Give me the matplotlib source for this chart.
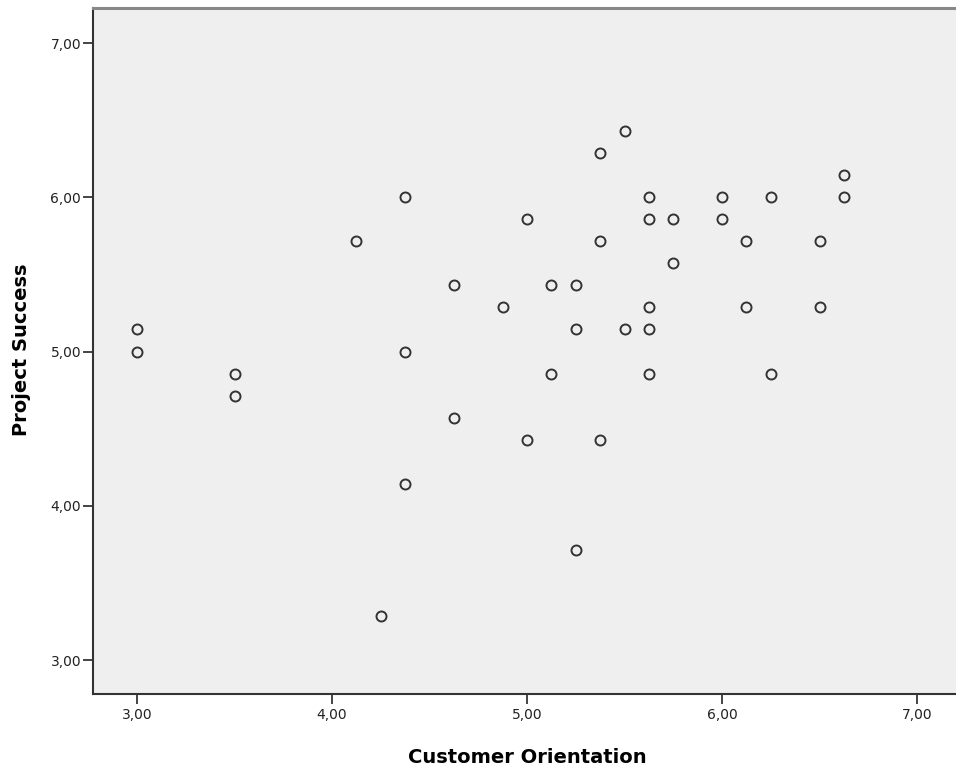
import matplotlib
matplotlib.use("Agg")
import matplotlib.pyplot as plt
from matplotlib.ticker import FuncFormatter

# Customer Orientation (x) vs Project Success (y)
customer_orientation = [
    3.000, 3.000, 3.500, 3.500, 4.125, 4.375, 4.375, 4.375, 4.250,
    4.625, 4.625, 4.875, 5.000, 5.000, 5.125, 5.125, 5.250, 5.250, 5.250,
    5.375, 5.375, 5.375, 5.500, 5.500, 5.625, 5.625, 5.625, 5.625, 5.625,
    5.750, 5.750, 6.000, 6.000, 6.125, 6.125, 6.250, 6.250, 6.500, 6.500,
    6.625, 6.625,
]
project_success = [
    5.143, 5.000, 4.857, 4.714, 5.714, 6.000, 5.000, 4.143, 3.286,
    5.429, 4.571, 5.286, 5.857, 4.429, 5.429, 4.857, 5.429, 5.143, 3.714,
    6.286, 5.714, 4.429, 6.429, 5.143, 6.000, 5.857, 5.286, 5.143, 4.857,
    5.857, 5.571, 6.000, 5.857, 5.714, 5.286, 6.000, 4.857, 5.714, 5.286,
    6.143, 6.000,
]
ticks = [3, 4, 5, 6, 7]

plt.rcParams['font.family'] = ['DejaVu Sans']

fig = plt.figure(figsize=(9.56, 7.71), dpi=100)
ax = fig.add_axes([93 / 956, 1 - 694 / 771, 1 - 93 / 956, (694 - 8) / 771])
ax.set_facecolor('#efefef')

ax.plot(customer_orientation, project_success, linestyle='none', marker='o',
        markersize=7.2, markerfacecolor='none', markeredgecolor='#333333',
        markeredgewidth=1.4)

ax.set_xlim(2.774, 7.2)
ax.set_ylim(2.78, 7.227)
ax.set_xticks(ticks)
ax.set_yticks(ticks)
comma = FuncFormatter(lambda v, p: f"{v:.2f}".replace('.', ','))
ax.xaxis.set_major_formatter(comma)
ax.yaxis.set_major_formatter(comma)
ax.tick_params(axis='both', direction='out', length=7, width=1.4,
               color='#444444', labelsize=10, labelcolor='#222222')
ax.tick_params(axis='x', pad=3)
ax.tick_params(axis='y', pad=1.5)

for side in ['left', 'bottom']:
    ax.spines[side].set_color('#333333')
    ax.spines[side].set_linewidth(1.5)
ax.spines['top'].set_color('#888888')
ax.spines['top'].set_linewidth(2.2)
ax.spines['right'].set_visible(False)

fig.text(527 / 956, 1 - 763 / 771, 'Customer Orientation', ha='center',
         va='baseline', fontsize=14, fontweight='bold')
fig.text(22 / 956, 1 - 350 / 771, 'Project Success', ha='center',
         va='center', rotation=90, fontsize=14, fontweight='bold')

fig.savefig('out.png', dpi=100)
